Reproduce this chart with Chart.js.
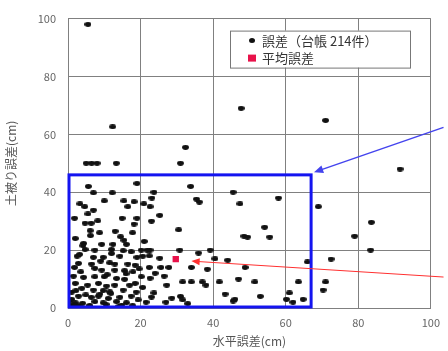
<!DOCTYPE html>
<html>
<head>
<meta charset="utf-8">
<script src="https://cdn.jsdelivr.net/npm/chart.js@4.4.0/dist/chart.umd.min.js"></script>
<style>
html,body{margin:0;padding:0;background:#fff;}
canvas{display:block;}
</style>
</head>
<body>
<canvas id="c" width="448" height="351"></canvas>
<script>
// ---- data ----
const xTicks = [0, 20, 40, 60, 80, 100];
const yTicks = [0, 20, 40, 60, 80, 100];
const seriesLabels = ["誤差（台帳 214件）", "平均誤差"];
const xTitle = "水平誤差(cm)";
const yTitle = "土被り誤差(cm)";

// horizontal error (cm)
const errX = [
 5.5,47.7,71,12.3,91.5,32.4,31,5,6.5,8,13.3,45.5,47.4,58,69,83.6,79,54.2,48.5,49.5,55.6,83.4,72.5,66,48.8,47,51.5,63.5,71,70.3,53,46,61,60.2,62,64.8,
 23.7,23.1,33.8,35.4,36.2,22.6,25.3,23,30.5,22.6,30.8,39.2,22.4,25.3,25.6,27.8,22.4,34,38.4,22.6,27.2,31.6,34,37,38,41.7,23.7,23,28.6,31,31.6,43.3,45.5,
 19,5.6,7,12.2,10,15.4,18.2,3.3,20.9,4.6,16.5,7,1.8,14.9,19,8.2,4.7,6.4,18.2,6.1,14.5,2,15.4,4.3,9.3,12.4,16.1,20.2,4.7,7.4,12,15.2,17.4,21.8,
 2.5,7,9.7,14.3,19,20.6,2.9,6.5,11.5,12.9,16.5,18.5,7.4,9.3,12.9,15.6,17.9,1.5,4.3,7.4,10,13.4,15.6,20.2,2,5.4,8.4,10.6,12.9,17,18.5,
 3.8,7,9.7,11.5,15.2,20.6,2.9,4.9,6.4,8.4,11.1,14.3,17.4,19.3,2,4,7.4,9.7,13.4,16.1,1.1,2.5,0.5,1.5,3,0.3,1,1,
 5.5,8.7,6.2,4.1,13,17.8,21,3.5,10.8,16,19.6,8.8,11.8,6,14,1.8,3.2,9,12,18.8,0.8,2.2,5.8,10.5,14.8,17.8,21.5,24,26.5,36,40.5,44,27,33
];
// depth error (cm)
const errY = [
 98,69,64.8,62.6,48,55.5,50,50,50,50,50,40,36,38,35,29.6,24.8,27.9,24.8,24.5,24.5,20,16.9,15.9,14,10,9,9,9,6.2,4,3,5.2,3,2,3,
 40,38,42,37.6,36.6,35,32,30,27,20,20,20,18,17.2,14,14,14,14,13.4,10.3,7.9,9,9,9,7.9,9,5.2,3.8,3.4,4,2.8,4.8,2.4,
 43,42,39.8,39.8,37,37,36.7,36,36,35,35,33.8,31,31,31,30.1,29.3,29.3,29,26.7,24.6,24,23.4,22.3,22,22,22,20,20.2,20,20.2,19.8,19.4,20,
 17.9,17.5,17.5,17.9,17.5,17.9,15.4,15.2,15.6,15.2,15.2,14.8,13.7,13.1,13.1,12.9,12.5,11,10.6,10.8,10.8,10.2,9.9,10.8,8.5,7.9,8.5,7.6,7.9,7.9,8.5,
 6.8,6.2,6,5.6,6.2,7.1,4.1,4.5,3.7,4.1,3.3,3.7,4.1,2.8,1.8,1.6,2.2,1.8,2.2,1.8,1,0.7,0.5,0.3,0.5,2,3,5.5,
 32.5,26,25,21.5,26.5,26,23,12.5,11.5,11.8,13.5,4.8,5,0.8,0.5,14,18.5,16.2,18.8,5.5,0.6,6,0.4,1.2,1,0.8,2,12,11,19,17,16.5,2,1.5
];
const avgX = [29.7];
const avgY = [16.9];

// annotation (data units)
const boxX = [0, 67];
const boxY = [0, 46];
const blueArrow = [[103.5, 62.4], [67.8, 46.9]];
const redArrow = [[103.5, 10.7], [34, 16.2]];

const pts = errX.map((x, i) => ({x: x, y: errY[i]}));
const avgPts = avgX.map((x, i) => ({x: x, y: avgY[i]}));

const FONT = "'Noto Sans CJK JP','Noto Sans',sans-serif";

// point marker: small dark ellipse
const dot = document.createElement('canvas');
dot.width = 7; dot.height = 5;
(function(){
  const g = dot.getContext('2d');
  g.fillStyle = '#111';
  g.beginPath();
  g.ellipse(3.5, 2.5, 3.4, 2.4, 0, 0, Math.PI * 2);
  g.fill();
})();

function arrow(ctx, xs, ys, p0, p1, color, w, head) {
  const x0 = xs.getPixelForValue(p0[0]), y0 = ys.getPixelForValue(p0[1]);
  const x1 = xs.getPixelForValue(p1[0]), y1 = ys.getPixelForValue(p1[1]);
  const a = Math.atan2(y1 - y0, x1 - x0);
  ctx.save();
  ctx.strokeStyle = color; ctx.fillStyle = color; ctx.lineWidth = w;
  ctx.beginPath();
  ctx.moveTo(x0, y0);
  ctx.lineTo(x1 - Math.cos(a) * head * 0.8, y1 - Math.sin(a) * head * 0.8);
  ctx.stroke();
  ctx.beginPath();
  ctx.moveTo(x1, y1);
  ctx.lineTo(x1 - head * Math.cos(a - 0.4), y1 - head * Math.sin(a - 0.4));
  ctx.lineTo(x1 - head * Math.cos(a + 0.4), y1 - head * Math.sin(a + 0.4));
  ctx.closePath();
  ctx.fill();
  ctx.restore();
}

const overlay = {
  id: 'overlay',
  afterDatasetsDraw(chart) {
    const ctx = chart.ctx, xs = chart.scales.x, ys = chart.scales.y, ca = chart.chartArea;
    // blue box
    ctx.save();
    ctx.strokeStyle = '#1414f0';
    ctx.lineWidth = 3;
    const bx0 = xs.getPixelForValue(boxX[0]), bx1 = xs.getPixelForValue(boxX[1]);
    const by0 = ys.getPixelForValue(boxY[0]), by1 = ys.getPixelForValue(boxY[1]);
    ctx.strokeRect(bx0 + 1, by1, bx1 - bx0 - 1, by0 - by1 - 1);
    ctx.restore();
    arrow(ctx, xs, ys, blueArrow[0], blueArrow[1], '#4444ee', 1.5, 10);
    arrow(ctx, xs, ys, redArrow[0], redArrow[1], '#ff3030', 1, 9);
    // legend
    const lx = ca.left + 162, ly = ca.top + 12, lw = 180, lh = 37;
    ctx.save();
    ctx.fillStyle = '#fff';
    ctx.fillRect(lx, ly, lw, lh);
    ctx.strokeStyle = '#777';
    ctx.lineWidth = 1;
    ctx.strokeRect(lx + 0.5, ly + 0.5, lw, lh);
    ctx.fillStyle = '#111';
    ctx.beginPath();
    ctx.ellipse(lx + 22, ly + 10, 3, 2.5, 0, 0, Math.PI * 2);
    ctx.fill();
    ctx.fillStyle = '#e8124a';
    ctx.fillRect(lx + 18, ly + 24, 8, 7);
    ctx.fillStyle = '#333';
    ctx.font = "13px " + FONT;
    ctx.textBaseline = 'middle';
    ctx.fillText(seriesLabels[0], lx + 32, ly + 10);
    ctx.fillText(seriesLabels[1], lx + 32, ly + 27);
    ctx.restore();
  }
};

new Chart(document.getElementById('c'), {
  type: 'scatter',
  data: {
    datasets: [
      {label: seriesLabels[1], data: avgPts, pointStyle: 'rect', pointRadius: 4.5,
       backgroundColor: '#e8124a', borderColor: '#e8124a', borderWidth: 0},
      {label: seriesLabels[0], data: pts, pointStyle: dot, pointRadius: 3,
       backgroundColor: '#111', borderColor: '#111', borderWidth: 0}
    ]
  },
  options: {
    responsive: false,
    animation: false,
    layout: {padding: {top: 18, right: 13, left: 0, bottom: 0}},
    plugins: {legend: {display: false}, tooltip: {enabled: false}},
    scales: {
      x: {
        type: 'linear', min: 0, max: 100,
        afterBuildTicks: (s) => { s.ticks = xTicks.map(v => ({value: v})); },
        afterFit: (s) => { s.height = 43; },
        grid: {color: '#808080', drawTicks: false, lineWidth: 1},
        border: {color: '#808080'},
        ticks: {color: '#666', font: {size: 11, family: FONT}, padding: 8},
        title: {display: true, text: xTitle, color: '#555', font: {size: 12, family: FONT}, padding: {top: 0, bottom: 2}}
      },
      y: {
        type: 'linear', min: 0, max: 100,
        afterBuildTicks: (s) => { s.ticks = yTicks.map(v => ({value: v})); },
        afterFit: (s) => { s.width = 68; },
        grid: {color: '#808080', drawTicks: false, lineWidth: 1},
        border: {color: '#808080'},
        ticks: {color: '#666', font: {size: 11, family: FONT}, padding: 12},
        title: {display: true, text: yTitle, color: '#555', font: {size: 12, family: FONT}, padding: {top: 4, bottom: 0}}
      }
    }
  },
  plugins: [overlay]
});
</script>
</body>
</html>
